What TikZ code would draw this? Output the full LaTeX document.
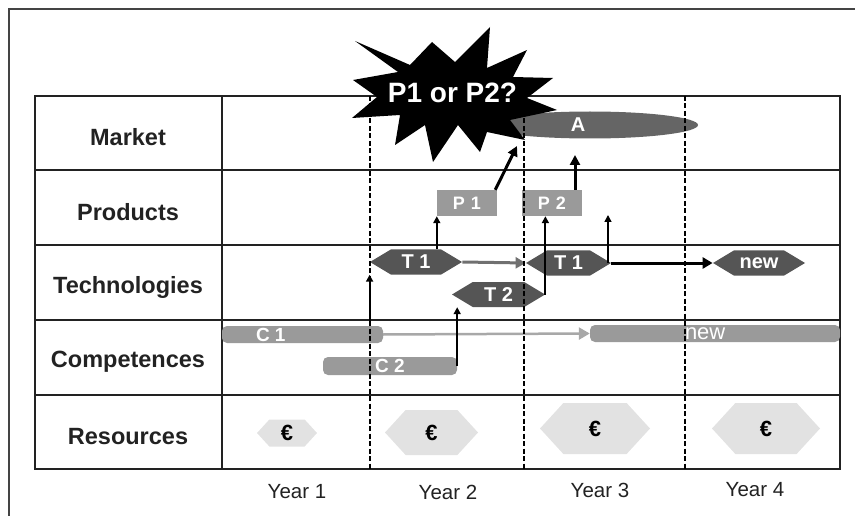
\documentclass[tikz,border=0pt]{standalone}
\usepackage{fontspec}
\setmainfont{Liberation Sans}
\usetikzlibrary{shapes.symbols,shapes.misc,shapes.geometric,arrows.meta,calc}
\definecolor{ink}{HTML}{222222}
\definecolor{framec}{HTML}{444444}
\definecolor{bargray}{HTML}{9A9A9A}
\definecolor{hexdark}{HTML}{555555}
\definecolor{hexlight}{HTML}{E2E2E2}
\definecolor{ellgray}{HTML}{656565}
\definecolor{arrgray}{HTML}{707070}
\definecolor{arrlight}{HTML}{A8A8A8}
\newcommand\fsz[1]{\fontsize{#1}{#1}\selectfont}
\begin{document}
\begin{tikzpicture}[x=1pt,y=-1pt,
  rowlabel/.style={font=\fsz{23.5}\bfseries, text=ink, inner sep=0},
  yearlabel/.style={font=\fsz{20.5}, text=ink, inner sep=0},
  thex/.style={shape=signal, signal to=west and east, signal pointer angle=62,
    fill=hexdark, text=white, font=\fsz{20}\bfseries, minimum width=92,
    minimum height=25, inner sep=0},
  ehex/.style={shape=signal, signal to=west and east, signal pointer angle=95,
    fill=hexlight, text=black, font=\fsz{22}\bfseries, inner sep=0},
  cbar/.style={rectangle, rounded corners=5, fill=bargray, text=white,
    font=\fsz{19}\bfseries, inner sep=0},
  prodbox/.style={rectangle, fill=bargray, text=white, font=\fsz{18}\bfseries,
    minimum width=60, minimum height=26, inner sep=0},
  tline/.style={line width=1.4pt, draw=ink},
  yeardash/.style={line width=2.5pt, dash pattern=on 5pt off 2.5pt, draw=black},
  thickarr/.style={line width=3pt, -{Triangle[length=10pt,width=10pt]}},
  thinarr/.style={line width=2pt, -{Triangle[length=7pt,width=7pt]}},
  grayarr/.style={line width=3pt, draw=arrgray, -{Triangle[length=10pt,width=11pt]}, color=arrgray},
  lightarr/.style={line width=2.5pt, draw=arrlight, -{Triangle[length=11pt,width=12pt]}, color=arrlight},
]
\useasboundingbox (0,0) rectangle (855,516);
% outer frame
\draw[line width=2pt, framec] (9,516) -- (9,9) -- (855,9);

% table grid
\draw[tline] (35,96) rectangle (840,469);
\foreach \yy in {170,245,320,395} \draw[tline] (35,\yy) -- (840,\yy);
\draw[tline] (222,96) -- (222,469);

% row labels
\node[rowlabel] (lMarket) at (128,137) {Market};
\node[rowlabel] (lProducts) at (128,212) {Products};
\node[rowlabel] (lTech) at (128,287) {Technologies};
\node[rowlabel] (lComp) at (128,362) {Competences};
\node[rowlabel] (lRes) at (128,437) {Resources};

% year labels
\node[yearlabel] (y1) at (297,492) {Year 1};
\node[yearlabel] (y2) at (448,492) {Year 2};
\node[yearlabel] (y3) at (600,490) {Year 3};
\node[yearlabel] (y4) at (755,490) {Year 4};

% market
\node[ellipse, fill=ellgray, text=white, font=\fsz{20}\bfseries, minimum width=216,
  minimum height=27, inner sep=0] (A) at (590,125) {\hspace*{-24pt}A};

% products
\node[prodbox] (P1) at (467,203) {P\,\,1};
\node[prodbox] (P2) at (552,203) {P\,\,2};

% technologies
\node[thex] (T1a) at (416,262) {T 1};
\node[thex, minimum width=85] (T1b) at (568.5,263) {T 1};
\node[thex] (newT) at (759,263) {new};
\node[thex, minimum width=93] (T2) at (498.5,294.5) {T 2};

% competences
\node[cbar, minimum width=161, minimum height=17] (C1) at (302.5,334.5)
  {\makebox[161pt][l]{\hspace*{34pt}C 1}};
\node[cbar, minimum width=134, minimum height=18] (C2) at (390,366) {C 2};
\node[cbar, minimum width=250, minimum height=17, font=\fsz{22}] (newC) at (715,333.5)
  {\makebox[250pt][l]{\hspace*{95pt}new}};

% resources
\node[ehex, minimum width=60, minimum height=27] (E1) at (287,433) {€};
\node[ehex, minimum width=93, minimum height=45] (E2) at (431.5,432.5) {€};
\node[ehex, minimum width=110, minimum height=51] (E3) at (595,428.5) {€};
\node[ehex, minimum width=108, minimum height=51] (E4) at (766,428.5) {€};

% connectors
\coordinate (aA1) at (517,146);
\coordinate (aA2) at (575,155);
\coordinate (up3) at (608,215);
\draw[thickarr] ($(P1.north east)+(-2,0)$) -- (aA1);
\draw[thickarr] (P2.north -| aA2) -- (aA2);
\draw[thinarr] (T1a.north -| P1.south west) -- (P1.south west);
\draw[thinarr] (T2.east) -- (T2.east |- P2.south);
\draw[line width=1.5pt, -{Triangle[length=7pt,width=7pt]}] (up3 |- T1b.east) -- (up3);
\draw[grayarr] (T1a.east) -- (T1b.west);
\draw[line width=3pt, -{Triangle[length=10pt,width=11pt]}] (T1b.east) -- (newT.west);
\draw[lightarr] (C1.east) -- (newC.west);
\draw[thinarr] (C1.north -| T1a.west) -- (T1a.south -| T1a.west);
\draw[thinarr] (C2.east) -- (C2.east |- T2.south);

% year dividers
\foreach \xx in {370,524,685} \draw[yeardash] (\xx,96) -- (\xx,469);

% starburst
\fill[black] (355,41) -- (410,65) -- (432,42) -- (455,62) -- (490,27) -- (487,68)
  -- (527,50) -- (513,77) -- (553,78) -- (527,98) -- (557,110) -- (510,120)
  -- (525,140) -- (487,132) -- (480,152) -- (458,125) -- (433,162) -- (425,125)
  -- (395,145) -- (400,115) -- (352,118) -- (377,97) -- (353,80) -- (398,72) -- cycle;
\node[text=white, font=\fsz{28}\bfseries, inner sep=0] (q) at (452.5,93) {P1 or P2?};
\end{tikzpicture}
\end{document}
